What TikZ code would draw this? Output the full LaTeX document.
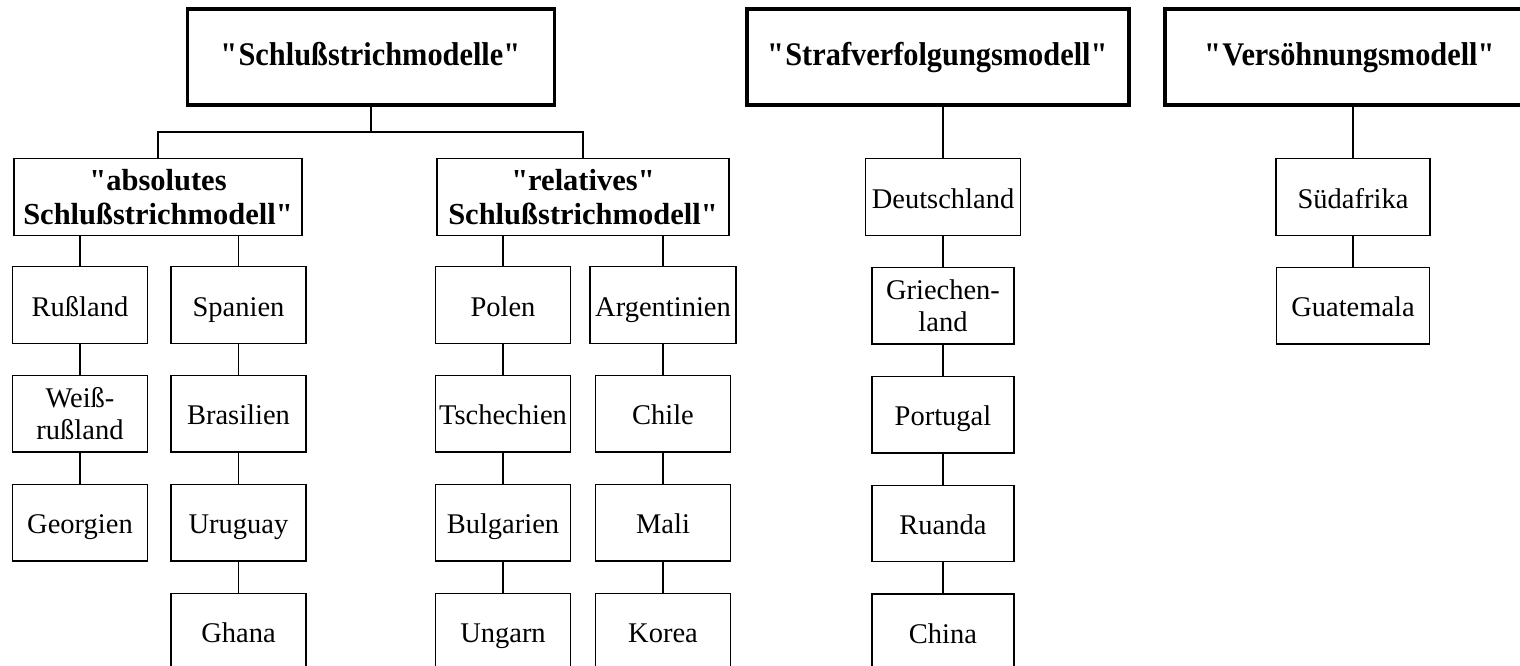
\documentclass[tikz,border=0pt]{standalone}
\usepackage{fontspec}
\setmainfont{Liberation Serif}
\newfontfamily\headfont{Liberation Serif}[FakeStretch=0.92]
\usepackage{tikz}
\usetikzlibrary{positioning}

\begin{document}
\begin{tikzpicture}[x=1pt, y=-1pt, node distance=31pt, head/.style = {draw, line width=3.5pt, inner sep=0pt, minimum height=96pt, text height=23pt, text depth=7pt, font=\headfont\fontsize{33}{34}\selectfont\bfseries}, sub/.style = {draw, line width=1.3pt, inner sep=0pt, minimum height=76.5pt, align=center, font=\fontsize{30.5}{34}\selectfont\bfseries}, land/.style = {draw, line width=1.3pt, inner sep=0pt, minimum height=76.5pt, minimum width=135pt, align=center, text height=25pt, text depth=3pt, font=\fontsize{28.5}{32}\selectfont}, two/.style = {text height=, text depth=}, every edge/.append style={line width=1.3pt}]

\useasboundingbox (0,0) rectangle (1520,665);

% the three models
\node[head, minimum width=367pt] (schluss) at (371,57) {\textquotedbl Schlußstrichmodelle\textquotedbl};
\node[head, minimum width=382pt] (straf) at (938,57) {\textquotedbl Strafverfolgungsmodell\textquotedbl};
\node[head, minimum width=370pt] (versoehn) at (1350,57) {\textquotedbl Versöhnungsmodell\textquotedbl};

\node[sub, minimum width=288pt] (absolut) at (158,197) {\textquotedbl absolutes\\Schlußstrichmodell\textquotedbl};
\node[sub, minimum width=292pt] (relativ) at (583,197) {\textquotedbl relatives\textquotedbl\\Schlußstrichmodell\textquotedbl};
\coordinate (fork) at (371,132);

% countries
\node[land] (russland) at (80,305) {Rußland};
\node[land, two, below=of russland] (weiss) {Weiß-\\rußland};
\node[land, below=of weiss] (georg) {Georgien};

\node[land] (spanien) at (238.5,305) {Spanien};
\node[land, below=of spanien] (brasil) {Brasilien};
\node[land, below=of brasil] (urug) {Uruguay};
\node[land, below=of urug] (ghana) {Ghana};

\node[land] (polen) at (503,305) {Polen};
\node[land, below=of polen] (tschech) {Tschechien};
\node[land, below=of tschech] (bulg) {Bulgarien};
\node[land, below=of bulg] (ungarn) {Ungarn};

\node[land, minimum width=146pt] (argent) at (663,305) {Argentinien};
\node[land, below=of argent] (chile) {Chile};
\node[land, below=of chile] (mali) {Mali};
\node[land, below=of mali] (korea) {Korea};

\node[land, minimum width=155pt] (deutsch) at (943,197) {Deutschland};
\node[land, two, minimum width=142pt, below=of deutsch] (griech) {Griechen-\\land};
\node[land, minimum width=142pt, below=of griech] (portug) {Portugal};
\node[land, minimum width=142pt, below=of portug] (ruanda) {Ruanda};
\node[land, minimum width=142pt, below=of ruanda] (china) {China};

\node[land, minimum width=154pt] (suedaf) at (1353,197) {Südafrika};
\node[land, minimum width=153pt, below=of suedaf] (guate) {Guatemala};

\draw[line width=1.3pt] (schluss) -- (fork);
\draw[line width=1.3pt] (absolut.north) |- (fork) -| (relativ.north);

\path
 (absolut.south -| russland) edge (russland)
 (absolut.south -| spanien) edge (spanien)
 (relativ.south -| polen) edge (polen)
 (relativ.south -| argent) edge (argent)
 (straf.south -| deutsch) edge (deutsch)
 (versoehn.south -| suedaf) edge (suedaf)
 (russland) edge (weiss)
 (weiss) edge (georg)
 (spanien) edge (brasil)
 (brasil) edge (urug)
 (urug) edge (ghana)
 (polen) edge (tschech)
 (tschech) edge (bulg)
 (bulg) edge (ungarn)
 (argent) edge (chile)
 (chile) edge (mali)
 (mali) edge (korea)
 (deutsch) edge (griech)
 (griech) edge (portug)
 (portug) edge (ruanda)
 (ruanda) edge (china)
 (suedaf) edge (guate);
\end{tikzpicture}
\end{document}
